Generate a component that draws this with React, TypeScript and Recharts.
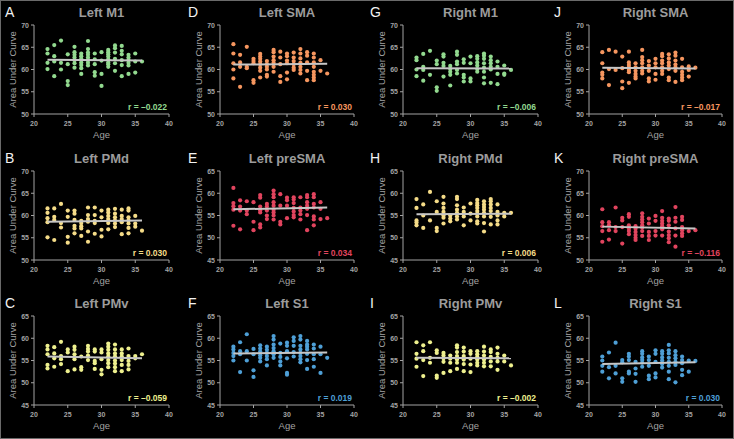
import React from 'react';
import { ScatterChart, Scatter, XAxis, YAxis } from 'recharts';

// ages of the subjects (x positions of the dot columns)
const ages = [22, 23, 24, 25, 26, 27, 28, 29, 30, 31, 32, 33, 34, 35, 36];
const ageTicks = [20, 25, 30, 35, 40];
const ticksHigh = [50, 55, 60, 65, 70];
const ticksLow = [45, 50, 55, 60, 65];

// area under curve per age (one list per age above)
const leftM1 = [
  [64.6, 63.6, 61.5, 60.1], [65.5, 63.0, 61.8, 58.5], [66.5, 61.5, 60.0], [63.4, 61.2, 57.4, 56.5],
  [65.1, 63.9, 63.3, 62.7, 62.1, 61.4, 60.4], [63.6, 63.0, 62.4, 61.6, 61.0, 60.3, 59.0],
  [66.4, 64.6, 63.8, 63.3, 62.7, 62.1, 61.5, 60.9], [63.6, 62.3, 61.2, 59.4, 58.6], [63.9, 62.0, 59.0, 56.3],
  [64.4, 63.9, 63.4, 62.9, 62.3, 61.6, 61.2, 60.6], [65.4, 64.8, 63.8, 62.4, 61.4, 59.7],
  [65.3, 64.2, 63.4, 62.1, 61.0, 58.5], [63.3, 62.7, 62.1, 61.5, 60.9, 59.0], [63.6, 61.8, 59.3], [61.8],
];
const leftSMA = [
  [65.7, 63.6, 61.4, 60.0, 58.0], [63.3, 61.6, 60.6, 56.1], [65.1, 60.6, 60.3], [62.4, 61.9, 61.4, 57.6, 57.0],
  [63.5, 62.9, 62.4, 61.8, 61.2, 60.4, 59.7, 58.2], [61.9, 61.2, 60.6, 60.0, 58.8, 58.4],
  [64.4, 63.9, 62.9, 62.1, 61.5, 60.6, 59.5], [64.0, 62.7, 61.2, 58.5, 57.2], [63.6, 63.0, 62.0, 61.4, 59.3, 57.8],
  [63.8, 62.7, 61.9, 61.2, 60.4, 59.9], [64.6, 63.6, 62.5, 61.5, 60.6, 59.9, 59.1],
  [63.9, 63.1, 61.6, 59.7, 57.6], [63.6, 62.7, 61.6, 60.6, 59.5, 58.8, 58.2, 57.6], [62.1, 59.7], [59.1],
];
const rightM1 = [
  [62.7, 62.1, 60.0, 58.5], [63.5, 60.6, 59.9, 57.5], [64.2, 58.8], [62.0, 61.2, 56.0, 55.2],
  [63.4, 62.9, 61.5, 60.8, 58.4], [60.8, 60.1, 59.5, 58.8, 56.4], [64.0, 63.3, 61.8, 61.2, 59.9, 59.1],
  [62.3, 61.5, 58.8, 58.2, 57.3], [62.9, 61.4, 58.0, 57.3], [63.0, 62.4, 61.6, 60.9, 60.1, 59.5],
  [63.6, 63.1, 62.4, 61.4, 60.4, 59.5, 58.2, 56.9], [62.9, 62.1, 61.4, 60.6, 60.0, 57.0],
  [61.8, 60.6, 59.0, 56.7], [60.9, 59.1, 58.8], [59.9],
];
const rightSMA = [
  [63.9, 61.4, 59.3, 58.8, 58.0], [64.4, 60.1, 56.5], [64.0, 59.9], [62.9, 60.3, 57.3, 55.8],
  [64.0, 61.6, 61.0, 60.5, 59.9, 59.4, 57.0], [61.4, 60.5, 59.7, 59.0, 58.4, 58.0],
  [64.4, 62.8, 62.1, 61.4, 60.5, 59.7, 59.1], [61.9, 60.9, 59.7, 58.0, 57.3], [62.4, 61.4, 60.5, 59.0, 57.7],
  [63.5, 63.0, 62.0, 61.4, 60.5, 59.7, 59.0], [63.4, 62.5, 61.6, 60.9, 60.1, 58.2, 57.6],
  [63.8, 63.1, 62.0, 61.1, 60.5, 59.7, 57.2], [62.4, 60.5, 59.5, 58.8, 58.2, 57.6], [60.7, 59.9, 58.4], [60.4],
];
const leftPMd = [
  [61.6, 60.6, 59.4, 58.5, 55.1], [61.6, 59.7, 59.0, 54.5], [62.6, 58.3, 57.3], [61.1, 59.7, 55.2, 53.9],
  [61.1, 60.4, 59.0, 57.7, 57.1, 56.0], [58.8, 58.3, 57.6, 57.1, 55.4], [61.8, 60.1, 59.2, 58.6, 56.4, 54.1],
  [61.8, 60.1, 58.8, 58.3, 55.9], [61.1, 59.6, 56.8, 55.3], [61.3, 60.7, 59.9, 59.2, 58.3, 56.9],
  [61.5, 60.4, 59.6, 58.9, 58.2, 57.4], [61.3, 59.9, 59.2, 58.5, 55.8],
  [61.6, 61.1, 59.6, 58.9, 58.2, 57.2, 56.0], [59.9, 58.2, 57.5], [56.6],
];
const leftPreSMA = [
  [61.2, 57.8, 57.1, 56.3, 52.7], [58.4, 57.0, 56.1, 51.9], [58.2, 56.1, 55.3], [58.0, 53.6, 51.7],
  [59.6, 59.0, 57.0, 56.2, 55.7, 53.0, 52.3], [57.6, 57.0, 56.1, 55.0, 54.2],
  [60.6, 59.8, 59.1, 58.0, 57.2, 56.3, 55.7, 55.0, 54.1], [59.8, 57.2, 53.6, 53.0], [59.0, 58.4, 57.2, 54.4],
  [59.1, 58.6, 57.8, 56.7, 55.9, 55.1, 54.6], [59.1, 56.8, 56.1, 55.3, 54.1],
  [59.6, 59.1, 58.0, 57.2, 56.5, 55.1, 51.7], [59.8, 59.1, 57.6, 56.8, 54.8, 54.1, 52.8], [58.0, 56.5, 54.2], [54.4],
];
const rightPMd = [
  [58.7, 56.7, 53.9, 53.4, 52.8], [57.5, 55.0, 52.2], [60.3, 53.9], [58.2, 55.8, 52.2, 51.5],
  [59.2, 57.7, 56.7, 55.8, 55.0, 54.5, 53.2], [55.0, 54.3, 53.7], [59.2, 58.7, 57.3, 56.3, 55.6, 54.8, 54.1],
  [56.8, 55.8, 54.8, 52.8], [57.7, 55.4, 53.9], [58.5, 57.8, 57.3, 56.7, 56.0, 55.4, 54.8, 53.7, 53.2],
  [58.2, 57.5, 56.9, 56.3, 55.6, 54.8, 53.3, 51.4], [58.7, 58.2, 57.5, 56.7, 56.0, 54.7, 53.0],
  [57.5, 55.8, 55.0, 53.9, 53.0], [55.6, 54.8], [55.6],
];
const rightPreSMA = [
  [61.4, 58.5, 57.6, 56.5, 54.1], [58.5, 57.8, 56.7, 54.6], [61.8, 57.4, 56.5], [59.5, 58.9, 57.4, 53.7],
  [60.3, 59.7, 57.8, 57.1, 56.5, 55.8], [57.6, 57.0, 56.3, 55.6, 55.0, 54.5],
  [60.5, 59.7, 59.1, 58.5, 57.8, 57.3, 56.5, 55.4], [59.3, 58.2, 56.3, 55.4, 54.5], [59.9, 58.8, 56.5, 55.5],
  [61.0, 59.5, 58.8, 58.2, 57.6, 56.9, 55.5], [59.3, 58.8, 57.8, 56.4, 55.6, 54.9, 54.0],
  [61.9, 59.5, 58.6, 57.1, 55.5, 53.0], [59.7, 59.0, 57.4, 56.7, 56.0, 55.4], [56.5], [56.7],
];
const leftPMv = [
  [58.3, 57.5, 56.4, 54.0, 53.2], [58.0, 56.6, 55.5, 53.6], [59.2, 56.0, 55.3, 54.2], [57.5, 56.8, 52.6],
  [58.1, 57.4, 56.4, 55.3, 53.0], [55.9, 53.5, 52.9], [58.3, 57.6, 57.0, 56.1, 55.1],
  [57.5, 57.0, 54.9, 54.4, 53.1], [57.5, 56.8, 55.3, 52.9, 51.9], [58.8, 58.1, 57.4, 56.6, 55.9, 55.1, 54.4, 53.5],
  [58.6, 57.5, 56.6, 55.9, 55.0, 54.3, 53.5, 52.6], [57.5, 56.6, 55.9, 55.1, 54.0, 52.6],
  [57.7, 56.0, 54.9, 54.0, 53.0], [56.0, 55.5], [56.4],
];
const leftS1 = [
  [58.1, 57.5, 56.7, 56.0, 55.0], [59.1, 57.1, 56.4, 52.4], [60.9, 57.1, 55.0], [57.6, 56.4, 52.8, 51.3],
  [58.4, 57.7, 57.0, 56.2, 55.6, 54.8], [58.1, 57.4, 56.7, 56.0, 55.3, 53.9],
  [60.5, 59.7, 58.6, 57.8, 57.1, 56.4, 55.6], [58.8, 56.7, 55.8, 54.8, 53.9], [59.0, 58.3, 57.1, 55.5, 52.2, 51.8],
  [60.2, 59.4, 58.3, 56.9, 55.9], [60.5, 59.7, 58.3, 57.5, 56.7, 56.0, 55.3, 54.6],
  [59.4, 58.6, 58.1, 57.5, 56.5, 55.1, 53.1], [58.6, 57.7, 56.4, 55.3, 53.6], [58.1, 56.4, 52.2], [55.6],
];
const rightPMv = [
  [59.1, 56.5, 55.4, 53.6], [58.4, 57.1, 55.1, 51.5], [59.1, 55.6, 54.5], [57.3, 56.7, 51.6, 51.1],
  [56.7, 56.1, 55.5, 54.7, 52.2], [56.1, 55.4, 54.5, 52.6], [58.4, 57.9, 56.9, 56.0, 55.2, 54.5, 53.1],
  [57.9, 57.0, 56.0, 55.2, 54.2, 52.6], [57.1, 56.5, 55.4, 54.1, 52.4], [57.1, 56.4, 55.8, 55.2, 54.5, 53.9],
  [58.1, 57.0, 56.1, 55.2, 54.5, 53.7], [57.5, 56.9, 55.8, 54.8, 53.7], [57.9, 56.5, 55.6, 54.8, 52.9],
  [56.1, 54.8], [53.9],
];
const rightS1 = [
  [55.9, 55.0, 53.8, 52.5], [56.8, 53.5, 51.0], [59.0, 53.8, 52.1], [55.1, 54.6, 51.0, 50.2],
  [56.5, 55.9, 55.1, 52.5, 52.1], [54.7, 53.2, 52.0, 50.2], [57.1, 56.5, 55.7, 55.1, 54.5, 53.6],
  [55.9, 55.1, 53.8, 51.6, 50.8], [57.3, 56.5, 54.7, 52.1, 51.2], [57.1, 56.5, 55.7, 55.0, 54.2, 53.4],
  [58.5, 57.3, 56.6, 55.6, 54.7, 53.8, 52.5, 50.8], [57.1, 56.2, 55.5, 54.7, 54.0, 50.1],
  [55.9, 55.1, 54.4, 52.9, 51.7], [55.0, 52.5], [54.9],
];

// fitted line value at first and last age
const fitLeftM1 = [62.2, 62.0];
const fitLeftSMA = [61.1, 61.3];
const fitRightM1 = [60.3, 60.2];
const fitRightSMA = [60.4, 60.2];
const fitLeftPMd = [58.6, 58.9];
const fitLeftPreSMA = [56.4, 56.8];
const fitRightPMd = [55.3, 55.4];
const fitRightPreSMA = [57.5, 57.1];
const fitLeftPMv = [55.9, 55.5];
const fitLeftS1 = [56.6, 56.8];
const fitRightPMv = [55.6, 55.5];
const fitRightS1 = [54.2, 54.6];

const GREEN = '#92d98f';
const ORANGE = '#f6965f';
const GOLD = '#f5dc88';
const RED = '#e1445e';
const LEMON = '#eef08e';
const BLUE = '#4e9fd6';
const GRAY = '#a3a3a3';
const FIT = '#c6c6c6';
const FONT = '"Liberation Sans", Arial, sans-serif';

const panels = [
  { letter: 'A', title: 'Left M1', values: leftM1, fit: fitLeftM1, r: 'r = –0.022', color: GREEN, ticks: ticksHigh, col: 0, row: 0 },
  { letter: 'D', title: 'Left SMA', values: leftSMA, fit: fitLeftSMA, r: 'r = 0.030', color: ORANGE, ticks: ticksHigh, col: 1, row: 0 },
  { letter: 'G', title: 'Right M1', values: rightM1, fit: fitRightM1, r: 'r = –0.006', color: GREEN, ticks: ticksHigh, col: 2, row: 0 },
  { letter: 'J', title: 'Right SMA', values: rightSMA, fit: fitRightSMA, r: 'r = –0.017', color: ORANGE, ticks: ticksHigh, col: 3, row: 0 },
  { letter: 'B', title: 'Left PMd', values: leftPMd, fit: fitLeftPMd, r: 'r = 0.030', color: GOLD, ticks: ticksHigh, col: 0, row: 1 },
  { letter: 'E', title: 'Left preSMA', values: leftPreSMA, fit: fitLeftPreSMA, r: 'r = 0.034', color: RED, ticks: ticksLow, col: 1, row: 1 },
  { letter: 'H', title: 'Right PMd', values: rightPMd, fit: fitRightPMd, r: 'r = 0.006', color: GOLD, ticks: ticksLow, col: 2, row: 1 },
  { letter: 'K', title: 'Right preSMA', values: rightPreSMA, fit: fitRightPreSMA, r: 'r = –0.116', color: RED, ticks: ticksHigh, col: 3, row: 1 },
  { letter: 'C', title: 'Left PMv', values: leftPMv, fit: fitLeftPMv, r: 'r = –0.059', color: LEMON, ticks: ticksLow, col: 0, row: 2 },
  { letter: 'F', title: 'Left S1', values: leftS1, fit: fitLeftS1, r: 'r = 0.019', color: BLUE, ticks: ticksLow, col: 1, row: 2 },
  { letter: 'I', title: 'Right PMv', values: rightPMv, fit: fitRightPMv, r: 'r = –0.002', color: LEMON, ticks: ticksLow, col: 2, row: 2 },
  { letter: 'L', title: 'Right S1', values: rightS1, fit: fitRightS1, r: 'r = 0.030', color: BLUE, ticks: ticksLow, col: 3, row: 2 },
];

// grid geometry (page pixels)
const COL_LEFT = [0, 183, 365, 547];
const COL_WIDTH = [183, 182, 182, 187];
const AXIS_X = [34, 220, 403, 589];
const AXIS_END = [169, 354, 538, 722];
const ROW_TOP = [0, 146, 293];
const ROW_HEIGHT = [146, 147, 146];
const PLOT_TOP = [25, 171, 316];
const PLOT_BOTTOM = [114, 260, 405];

const XTick = (props: any) => (
  <text x={props.x} y={props.y + 7} textAnchor="middle" fill={GRAY} fontSize={7} fontWeight="bold" fontFamily={FONT}>
    {props.payload.value}
  </text>
);

const YTick = (props: any) => (
  <text x={props.x} y={props.y + 2.5} textAnchor="end" fill={GRAY} fontSize={7} fontWeight="bold" fontFamily={FONT}>
    {props.payload.value}
  </text>
);

const ageLabel = (props: any) => {
  const { x, y, width } = props.viewBox;
  return (
    <text x={x + width / 2} y={y + 24} textAnchor="middle" fill={GRAY} fontSize={9.5} fontFamily={FONT}>
      Age
    </text>
  );
};

const aucLabel = (props: any) => {
  const { x, y, width, height } = props.viewBox;
  const cx = x + width - 18;
  const cy = y + height / 2;
  return (
    <text x={cx} y={cy} transform={`rotate(-90 ${cx} ${cy})`} textAnchor="middle" fill={GRAY} fontSize={9.5} fontFamily={FONT}>
      Area Under Curve
    </text>
  );
};

const Panel = ({ p }: { p: any }) => {
  const left = COL_LEFT[p.col];
  const width = COL_WIDTH[p.col];
  const top = ROW_TOP[p.row];
  const height = ROW_HEIGHT[p.row];
  const points = p.values.flatMap((vals: number[], i: number) => vals.map((v) => ({ x: ages[i], y: v })));
  const fitLine = [
    { x: ages[0], y: p.fit[0] },
    { x: ages[ages.length - 1], y: p.fit[1] },
  ];

  return (
    <div style={{ position: 'absolute', left, top, width, height }}>
      <ScatterChart
        width={width}
        height={height}
        margin={{ top: PLOT_TOP[p.row] - top, right: left + width - AXIS_END[p.col], bottom: 0, left: 0 }}
      >
        <XAxis
          type="number"
          dataKey="x"
          domain={[20, 40]}
          ticks={ageTicks}
          interval={0}
          height={top + height - PLOT_BOTTOM[p.row]}
          stroke={GRAY}
          tickSize={3}
          tick={<XTick />}
          label={ageLabel}
        />
        <YAxis
          type="number"
          dataKey="y"
          domain={[p.ticks[0], p.ticks[p.ticks.length - 1]]}
          ticks={p.ticks}
          interval={0}
          width={AXIS_X[p.col] - left}
          stroke={GRAY}
          tickSize={3}
          tick={<YTick />}
          label={aucLabel}
        />
        <Scatter
          data={points}
          isAnimationActive={false}
          shape={(s: any) => <circle cx={s.cx} cy={s.cy} r={2.1} fill={p.color} />}
        />
        <Scatter
          data={fitLine}
          isAnimationActive={false}
          line={{ stroke: FIT, strokeWidth: 2 }}
          shape={() => <g />}
        />
      </ScatterChart>
    </div>
  );
};

export default function App() {
  return (
    <div style={{ position: 'absolute', left: 0, top: 0, width: 734, height: 439, background: '#000', overflow: 'hidden' }}>
      {panels.map((p) => (
        <Panel key={p.letter} p={p} />
      ))}
      <svg width={734} height={439} style={{ position: 'absolute', left: 0, top: 0, pointerEvents: 'none' }}>
        <rect x={0.5} y={0.5} width={733} height={438} fill="none" stroke="#6a6a6a" />
        {panels.map((p) => {
          const base = PLOT_TOP[p.row] - 8.5;
          return (
            <g key={p.letter} fontFamily={FONT}>
              <text x={COL_LEFT[p.col] + (p.col === 3 ? 7 : 5)} y={base} fill="#f2f2f2" fontSize={14}>
                {p.letter}
              </text>
              <text x={(AXIS_X[p.col] + AXIS_END[p.col]) / 2} y={base} textAnchor="middle" fill="#9c9c9c" fontSize={13} fontWeight="bold">
                {p.title}
              </text>
              <text x={AXIS_END[p.col] - 2} y={PLOT_BOTTOM[p.row] - 4} textAnchor="end" fill={p.color} fontSize={8.5} fontWeight="bold">
                {p.r}
              </text>
            </g>
          );
        })}
      </svg>
    </div>
  );
}
